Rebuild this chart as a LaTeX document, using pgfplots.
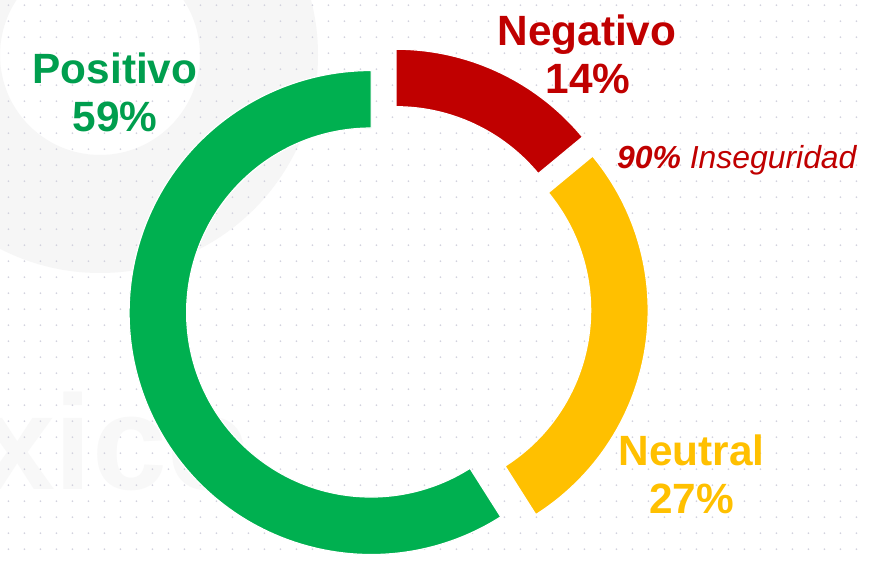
\documentclass[border=0pt]{standalone}
\usepackage{fontspec}
\setmainfont{Liberation Sans}
\usepackage{pgfplots}
\usepackage{pgfplotstable}
\pgfplotsset{compat=1.18}
\usetikzlibrary{calc,patterns}

\definecolor{cneg}{HTML}{C00000}
\definecolor{cneu}{HTML}{FFC000}
\definecolor{cpos}{HTML}{00B050}
\definecolor{cpostext}{HTML}{009E4E}
\definecolor{dotgray}{HTML}{D2D2DE}
\definecolor{wmgray}{HTML}{F6F6F6}

% small dots in the background
\pgfdeclarepatternformonly{bgdots}{\pgfqpoint{0bp}{0bp}}{\pgfqpoint{16bp}{16bp}}{\pgfqpoint{16bp}{16bp}}{%
  \pgfpathcircle{\pgfqpoint{10bp}{14.7bp}}{1bp}\pgfusepath{fill}}

\pgfplotstableread{
label value
Negativo 14
Neutral 27
Positivo 59
}\sentimiento

% ring geometry (bp): centre, outer / inner radius, explode distance
\def\cx{388.4}
\def\cy{254.5}
\def\Ro{242}
\def\Ri{184.5}
\def\dx{18}

% #1 colour, #2 start angle, #3 end angle, #4 mid angle
\newcommand\ringsector[4]{%
  \fill[#1,draw=white,line width=1.2bp]
    ($(axis cs:\cx,\cy)+(#4:\dx bp)+(#2:\Ro bp)$)
    arc[start angle=#2,end angle=#3,radius=\Ro bp]
    -- ($(axis cs:\cx,\cy)+(#4:\dx bp)+(#3:\Ri bp)$)
    arc[start angle=#3,end angle=#2,radius=\Ri bp] -- cycle;}

\newcommand\labfont{\fontsize{42.5}{50}\selectfont\bfseries}

\begin{document}
\begin{tikzpicture}
\useasboundingbox (0,0) rectangle (871bp,562bp);
\fill[white] (0,0) rectangle (871bp,562bp);
% faint watermark, cut by the page edge as in the original slide
\begin{scope}
\clip (0,0) rectangle (871bp,562bp);
\fill[wmgray,even odd rule] (100bp,507bp) circle[radius=218bp] (100bp,507bp) circle[radius=100bp];
\node[anchor=base west,inner sep=0pt,text=wmgray!80!white,font=\fontsize{135}{135}\selectfont\bfseries]
  at (-20bp,72bp) {xico};
\end{scope}
\fill[pattern=bgdots,pattern color=dotgray] (0,0) rectangle (871bp,562bp);

\pgfplotstablegetelem{0}{value}\of\sentimiento\let\vneg\pgfplotsretval
\pgfplotstablegetelem{1}{value}\of\sentimiento\let\vneu\pgfplotsretval
\pgfplotstablegetelem{2}{value}\of\sentimiento\let\vpos\pgfplotsretval
\pgfmathsetmacro\aA{90}
\pgfmathsetmacro\aB{\aA-3.6*\vneg}
\pgfmathsetmacro\aC{\aB-3.6*\vneu}
\pgfmathsetmacro\aD{\aC-3.6*\vpos}
\pgfmathsetmacro\mA{(\aA+\aB)/2}
\pgfmathsetmacro\mB{(\aB+\aC)/2}
\pgfmathsetmacro\mC{(\aC+\aD)/2}

\begin{axis}[
  x=1bp, y=1bp,
  xmin=0, xmax=871, ymin=0, ymax=562,
  hide axis, clip=false,
  anchor=origin, at={(0,0)},
]
\ringsector{cneg}{\aA}{\aB}{\mA}
\ringsector{cneu}{\aB}{\aC}{\mB}
\ringsector{cpos}{\aC}{\aD}{\mC}

\node[anchor=base,inner sep=0pt,text=cpostext,font=\labfont] at (axis cs:115,478.7) {Positivo};
\node[anchor=base,inner sep=0pt,text=cpostext,font=\labfont] at (axis cs:115,430.3) {59\%};
\node[anchor=base,inner sep=0pt,text=cneg,font=\labfont] at (axis cs:587,517) {Negativo};
\node[anchor=base,inner sep=0pt,text=cneg,font=\labfont] at (axis cs:588,468.7) {14\%};
\node[anchor=base,inner sep=0pt,text=cneu,font=\labfont] at (axis cs:691.5,97) {Neutral};
\node[anchor=base,inner sep=0pt,text=cneu,font=\labfont] at (axis cs:691.5,48.7) {27\%};
\node[anchor=base west,inner sep=0pt,text=cneg,font=\fontsize{32}{36}\selectfont\itshape]
  at (axis cs:617,393.7) {\textbf{90\%} Inseguridad};
\end{axis}
\end{tikzpicture}
\end{document}
